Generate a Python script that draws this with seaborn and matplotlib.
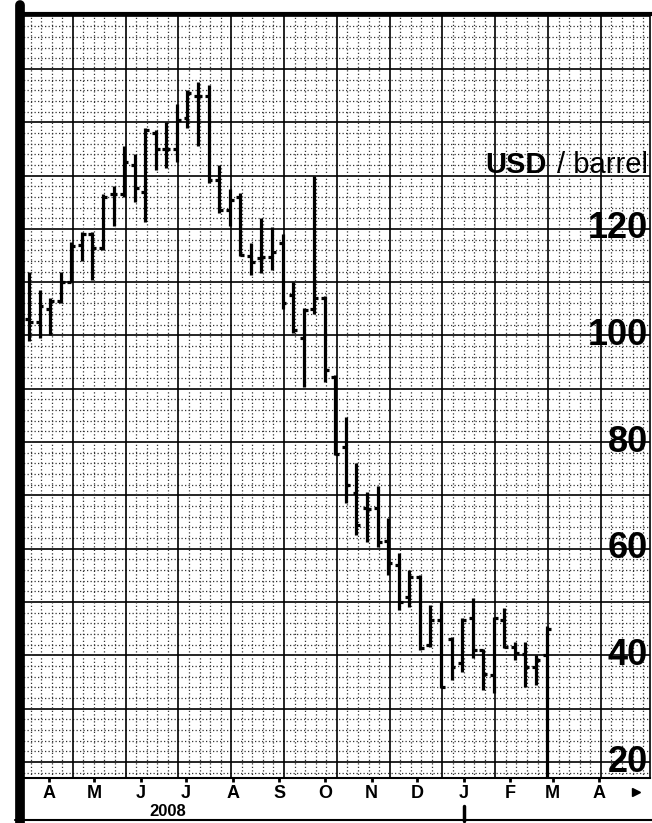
"""Weekly crude oil bars, 2008-09"""

import numpy as np
import pandas as pd
import matplotlib
matplotlib.use("Agg")
import matplotlib.pyplot as plt
import matplotlib.dates as mdates
from matplotlib.lines import Line2D
import seaborn as sns

sns.set_theme(style="white")
plt.rcParams["font.family"] = ["Liberation Sans", "DejaVu Sans"]

# weekly bars (USD / barrel)
weeks = pd.date_range("2008-03-19", periods=50, freq="7D")
opens = [103, 102.5, 105, 106.5, 110, 117, 119, 116.5, 126.5, 126.5,
         132, 127, 138, 135, 135, 140.8, 145, 145, 129.2, 123.5,
         126, 115, 114.5, 114.7, 117.4, 107.6, 99.5, 105, 107, 92.2,
         79, 70.5, 67.7, 67.7, 61.5, 57, 51, 54.7, 42, 46.6,
         43, 38.6, 47, 41, 36.3, 46.6, 41.6, 40.2, 37.8, 40]
highs = [112, 108.5, 107, 112, 117.5, 119.5, 119.5, 126.5, 128, 135.5,
         134, 139, 138.6, 140, 143.5, 146, 147.5, 147, 132, 127.5,
         126.7, 117.4, 122, 120.4, 119, 110, 105.2, 130, 107.5, 92.6,
         84.7, 76, 70.7, 71.8, 65.8, 59.2, 56, 55, 49.5, 50,
         43.5, 47, 50.8, 41.2, 47.2, 48.9, 42.5, 42.5, 40, 45.5]
lows = [99, 99.5, 100, 106, 110, 114, 110.5, 116, 120.5, 126,
        125, 121.3, 131, 131.5, 132.5, 139, 135.5, 128.6, 123, 120.5,
        115, 111.4, 111.7, 112.3, 105, 100.5, 90.4, 104, 91.3, 77.6,
        68.6, 62.6, 61.3, 60.3, 55, 48.5, 49, 41, 41.6, 33.9,
        35.4, 36.9, 39.5, 33.5, 33, 41.4, 39.1, 34, 34.4, 40]
closes = [102.5, 105.5, 106.5, 110, 116.8, 119, 116.5, 126, 126.5, 132.5,
          127.7, 138.5, 135, 135, 140.5, 145.5, 145, 129.2, 123.5, 125.4,
          115.1, 113.8, 114.7, 115.7, 106, 101, 104.8, 107, 93.5, 77.8,
          72, 64.5, 67.5, 61.3, 57.3, 50, 54.7, 41.4, 46.6, 34,
          37.8, 46.6, 41, 36.5, 47, 41.6, 40.4, 37.8, 39.2, 45]

y_labels = [20, 40, 60, 80, 100, 120]
months = pd.date_range("2008-04-01", "2009-04-01", freq="MS")
month_letters = ["A", "M", "J", "J", "A", "S", "O", "N", "D", "J", "F", "M", "A"]

df = pd.DataFrame({"week": weeks, "open": opens, "high": highs,
                   "low": lows, "close": closes})
x = mdates.date2num(df["week"].dt.to_pydatetime())

fig = plt.figure(figsize=(6.52, 8.23), dpi=100)
ax = fig.add_axes([20 / 652, 1 - 778 / 823, 630 / 652, 764 / 823])

px_day = 1.509
x0 = x[0] - 9 / px_day
x1 = x0 + 630 / px_day
y0, y1 = 17.0, 160.3
ax.set_xlim(x0, x1)
ax.set_ylim(y0, y1)

# chart paper grid
for v in np.arange(18, 161, 2):
    if v % 10 == 0:
        ax.axhline(v, color="black", lw=1.2, zorder=1)
    else:
        ax.axhline(v, color="#333333", lw=0.9, ls=(0, (1, 1.8)), zorder=1)
for k in range(-2, 62):
    gx = x[0] + 1 + 7 * k
    if (k - 4) % 5 == 0:
        ax.axvline(gx, color="black", lw=1.2, zorder=1)
    else:
        ax.axvline(gx, color="#333333", lw=0.9, ls=(0, (1, 1.8)), zorder=1)

# OHLC bars
ax.vlines(x, df["low"], df["high"], color="black", lw=2.3, zorder=3)
ax.hlines(df["open"], x - 2.6, x, color="black", lw=2.3, zorder=3)
ax.hlines(df["close"], x, x + 2.6, color="black", lw=2.3, zorder=3)
ax.vlines(x[-1], y0, df["low"].iloc[-1], color="black", lw=2.3, zorder=3)

# right-hand scale
ytr = ax.get_yaxis_transform()
for v in y_labels:
    ax.text(0.9968, v, str(v), transform=ytr, ha="right", va="center",
            fontsize=26, fontweight="bold", color="black", zorder=4)
ax.text(0.738, 132, "USD", transform=ytr, ha="left", va="center",
        fontsize=21, fontweight="bold", color="black", zorder=4)
ax.text(0.9968, 132, "/ barrel", transform=ytr, ha="right", va="center",
        fontsize=21, color="black", zorder=4)
ax.set_yticks([])

# month axis
ax.set_xticks(mdates.date2num(months.to_pydatetime()))
ax.set_xticklabels(month_letters, fontweight="bold")
ax.tick_params(axis="x", bottom=True, length=3, width=2, color="black",
               pad=2, labelsize=13, labelcolor="black")

xtr = ax.get_xaxis_transform()
ax.text(mdates.date2num(pd.Timestamp("2008-06-19")), -0.044, "2008",
        transform=xtr, ha="center", va="center", fontsize=12,
        fontweight="bold", color="black")
jan = mdates.date2num(pd.Timestamp("2009-01-01"))
ax.plot([jan, jan], [-0.036, -0.056], transform=xtr, color="black",
        lw=2.5, clip_on=False)
ax.plot([0.978], [-0.018], transform=ax.transAxes, marker=">",
        color="black", ms=6, clip_on=False)

ax.grid(False)
ax.spines["left"].set_visible(False)
ax.spines["top"].set_linewidth(3)
ax.spines["right"].set_linewidth(1.2)
ax.spines["bottom"].set_linewidth(1.5)
for s in ax.spines.values():
    s.set_color("black")

# frame of the printed chart
fig.add_artist(Line2D([20 / 652, 20 / 652], [0, 1 - 5 / 823],
                      transform=fig.transFigure, color="black", lw=7))
fig.add_artist(Line2D([15 / 652, 1], [1 - 820 / 823, 1 - 820 / 823],
                      transform=fig.transFigure, color="black", lw=1.5))

fig.savefig("out.png", dpi=100, facecolor="white")
